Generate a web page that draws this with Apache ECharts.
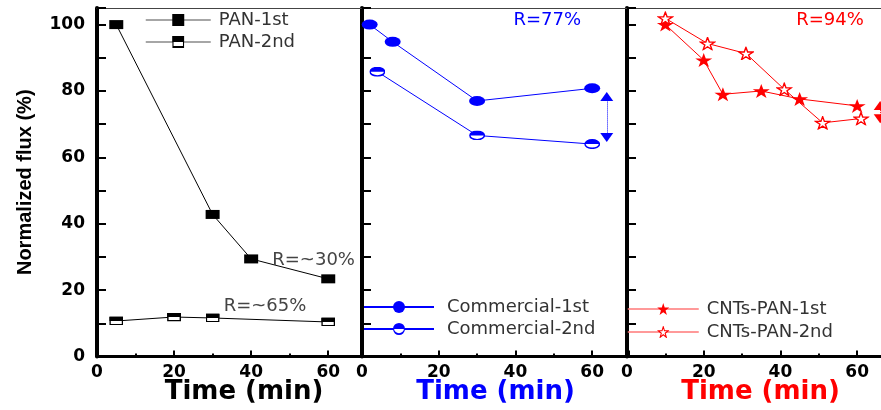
<!DOCTYPE html>
<html>
<head>
<meta charset="utf-8">
<script src="https://cdn.jsdelivr.net/npm/echarts@6.0.0/dist/echarts.min.js"></script>
<style>
html, body { margin: 0; padding: 0; background: #fff; }
#main { width: 881px; height: 410px; }
</style>
</head>
<body>
<div id="main"></div>
<script>
// 数据
var panTime1 = [5, 30, 40, 60];
var pan1st = [100, 42.8, 29.4, 23.4];
var panTime2 = [5, 20, 30, 60];
var pan2nd = [10.7, 11.9, 11.6, 10.4];

var comTime1 = [2, 8, 30, 60];
var com1st = [100, 94.8, 77, 80.8];
var comTime2 = [4, 30, 60];
var com2nd = [85.8, 66.6, 64];

var cntTime1 = [10, 20, 25, 35, 45, 60];
var cnt1st = [100, 89.3, 79, 80, 77.6, 75.5];
var cntTime2 = [10, 21, 31, 41, 51, 61];
var cnt2nd = [101.9, 94.3, 91.3, 80.5, 70.4, 71.7];

// 注释 R 值
var panLabels = ['R=~30%', 'R=~65%'];
var comLabel = 'R=77%';
var cntLabel = 'R=94%';
// 双箭头 [x, 下端, 上端]
var comArrow = [63.8, 66, 78.3];
var cntArrow = [66, 71.6, 75.6];

var BLUE = '#0000ff';
var RED = '#ff0000';
var xMax = [68.5, 69.6, 69.6];

function pair(xs, ys) {
    return xs.map(function (x, i) { return [x, ys[i]]; });
}
function svgSymbol(s) {
    return 'image://data:image/svg+xml;charset=utf-8,' + encodeURIComponent(s);
}
var halfSquare = svgSymbol('<svg xmlns="http://www.w3.org/2000/svg" width="28" height="18" viewBox="0 0 28 18">' +
    '<rect x="1.5" y="1.5" width="25" height="15" fill="#fff" stroke="#000" stroke-width="3"/>' +
    '<rect x="0" y="0" width="28" height="9" fill="#000"/></svg>');
var halfCircle = svgSymbol('<svg xmlns="http://www.w3.org/2000/svg" width="32" height="20" viewBox="0 0 32 20">' +
    '<ellipse cx="16" cy="10" rx="14.5" ry="8.5" fill="#fff" stroke="#0000ff" stroke-width="3"/>' +
    '<path d="M1.5,10 A14.5,8.5 0 0 1 30.5,10 Z" fill="#0000ff"/></svg>');
var openStar = svgSymbol('<svg xmlns="http://www.w3.org/2000/svg" width="36" height="32" viewBox="-1.5 -1.5 27 25.5">' +
    '<path d="M12,0 L14.9,8.6 L24,8.6 L16.6,13.9 L19.4,22.5 L12,17.2 L4.6,22.5 L7.4,13.9 L0,8.6 L9.1,8.6 Z" ' +
    'fill="#fff" stroke="#ff0000" stroke-width="2.4" stroke-linejoin="miter"/></svg>');
var ellipse = 'path://M0,5 A8,5 0 1 1 16,5 A8,5 0 1 1 0,5 Z';
var star = 'path://M12,0 L14.9,8.6 L24,8.6 L16.6,13.9 L19.4,22.5 L12,17.2 L4.6,22.5 L7.4,13.9 L0,8.6 L9.1,8.6 Z';

var tickFont = { fontSize: 17, fontWeight: 'bold', color: '#000', fontFamily: 'DejaVu Sans' };
var nameColors = ['#000', BLUE, RED];

var grids = [], xAxes = [], yAxes = [];
[97, 362, 627].forEach(function (left, i) {
    grids.push({ left: left, top: 8, width: i === 0 ? 264 : 267, height: 348.5, outerBoundsMode: 'none' });
    // 主刻度 + 轴名
    xAxes.push({
        type: 'value', gridIndex: i, min: 0, max: xMax[i], interval: 20, position: 'bottom',
        axisLine: { show: true, onZero: false, lineStyle: { color: '#000', width: 3 } },
        axisTick: { inside: true, length: 6, lineStyle: { color: '#000', width: 2 } },
        axisLabel: Object.assign({ margin: 8, formatter: function (v) { return v % 20 === 0 ? v : ''; } }, tickFont),
        splitLine: { show: false },
        name: 'Time (min)', nameLocation: 'middle', nameGap: 23, nameMoveOverlap: false,
        nameTextStyle: {
            fontSize: 26, fontWeight: 'bold', fontFamily: 'DejaVu Sans', color: nameColors[i],
            padding: i === 0 ? [0, 0, 0, 30] : 0
        }
    });
    // 次刻度
    xAxes.push({
        type: 'value', gridIndex: i, min: 0, max: xMax[i], interval: 10, position: 'bottom',
        axisLine: { show: false, onZero: false },
        axisTick: { inside: true, length: 3, lineStyle: { color: '#000', width: 2 } },
        axisLabel: { show: false }, splitLine: { show: false }
    });
    // 顶部边框
    xAxes.push({
        type: 'value', gridIndex: i, min: 0, max: xMax[i], position: 'top',
        axisLine: { show: true, onZero: false, lineStyle: { color: '#444', width: 1 } },
        axisTick: { show: false }, axisLabel: { show: false }, splitLine: { show: false }
    });
    yAxes.push({
        type: 'value', gridIndex: i, min: 0, max: 105, interval: 10,
        axisLine: { show: true, onZero: false, lineStyle: { color: '#000', width: 4 } },
        axisTick: { inside: true, length: 9, lineStyle: { color: '#000', width: 2 } },
        axisLabel: Object.assign({ show: i === 0, margin: 12, formatter: function (v) { return v % 20 === 0 ? v : ''; } }, tickFont),
        splitLine: { show: false },
        name: i === 0 ? 'Normalized flux (%)' : '', nameLocation: 'middle', nameGap: 62, nameRotate: 90, nameMoveOverlap: false,
        nameTextStyle: { fontSize: 20, fontWeight: 'bold', fontFamily: 'Liberation Sans', color: '#000' }
    });
});

function note(text, x, y, color) {
    return {
        symbol: 'circle', symbolSize: 0,
        label: { show: true, position: 'inside', formatter: '{b}', fontSize: 18, fontFamily: 'DejaVu Sans', color: color },
        data: [{ name: text, coord: [x, y] }]
    };
}
function arrow(a, color) {
    return {
        silent: true, symbol: ['triangle', 'triangle'], symbolSize: [13, 9],
        label: { show: false },
        lineStyle: { color: color, type: 'dotted', width: 1 },
        data: [[{ coord: [a[0], a[1]] }, { coord: [a[0], a[2]] }]]
    };
}

var legendText = { fontSize: 18, lineHeight: 22, color: '#333', fontFamily: 'DejaVu Sans' };

var option = {
    animation: false,
    grid: grids,
    xAxis: xAxes,
    yAxis: yAxes,
    legend: [{
        data: ['PAN-1st', 'PAN-2nd'], left: 145, top: 9, orient: 'vertical', padding: 0,
        itemWidth: 65, itemHeight: 15, itemGap: 0, selectedMode: false,
        lineStyle: { color: '#888', width: 1.5 },
        textStyle: Object.assign({ padding: [0, 0, 0, 3] }, legendText)
    }, {
        data: ['Commercial-1st', 'Commercial-2nd'], left: 363, top: 296, orient: 'vertical', padding: 0,
        itemWidth: 70, itemHeight: 15, itemGap: 0, selectedMode: false,
        textStyle: Object.assign({ padding: [0, 0, 0, 8] }, legendText)
    }, {
        data: ['CNTs-PAN-1st', 'CNTs-PAN-2nd'], left: 627, top: 298, orient: 'vertical', padding: 0,
        itemWidth: 71, itemHeight: 15, itemGap: 1, selectedMode: false,
        lineStyle: { color: '#ff7777', width: 1.5 },
        textStyle: Object.assign({ padding: [0, 0, 0, 3] }, legendText)
    }],
    series: [{
        name: 'PAN-1st', type: 'line', xAxisIndex: 0, yAxisIndex: 0,
        data: pair(panTime1, pan1st),
        symbol: 'rect', symbolSize: [14, 9],
        itemStyle: { color: '#000' }, lineStyle: { color: '#000', width: 1 },
        markPoint: note(panLabels[0], 56.2, 29.1, '#444')
    }, {
        name: 'PAN-2nd', type: 'line', xAxisIndex: 0, yAxisIndex: 0,
        data: pair(panTime2, pan2nd),
        symbol: halfSquare, symbolSize: [14, 9],
        itemStyle: { color: '#000' }, lineStyle: { color: '#000', width: 1 },
        markPoint: note(panLabels[1], 43.6, 15.2, '#444')
    }, {
        name: 'Commercial-1st', type: 'line', xAxisIndex: 3, yAxisIndex: 1,
        data: pair(comTime1, com1st),
        symbol: ellipse, symbolSize: [16, 10],
        itemStyle: { color: BLUE }, lineStyle: { color: BLUE, width: 1 },
        markPoint: note(comLabel, 48.3, 101.4, BLUE)
    }, {
        name: 'Commercial-2nd', type: 'line', xAxisIndex: 3, yAxisIndex: 1,
        data: pair(comTime2, com2nd),
        symbol: halfCircle, symbolSize: [16, 10],
        itemStyle: { color: BLUE }, lineStyle: { color: BLUE, width: 1 },
        markLine: arrow(comArrow, BLUE)
    }, {
        name: 'CNTs-PAN-1st', type: 'line', xAxisIndex: 6, yAxisIndex: 2,
        data: pair(cntTime1, cnt1st),
        symbol: star, symbolSize: [17, 14],
        itemStyle: { color: RED }, lineStyle: { color: RED, width: 1 },
        markPoint: note(cntLabel, 52.9, 101.4, RED)
    }, {
        name: 'CNTs-PAN-2nd', type: 'line', xAxisIndex: 6, yAxisIndex: 2,
        data: pair(cntTime2, cnt2nd),
        symbol: openStar, symbolSize: [17, 14],
        itemStyle: { color: RED }, lineStyle: { color: RED, width: 1 },
        markLine: arrow(cntArrow, RED)
    }]
};

var myChart = echarts.init(document.getElementById('main'));
myChart.setOption(option);
</script>
</body>
</html>
